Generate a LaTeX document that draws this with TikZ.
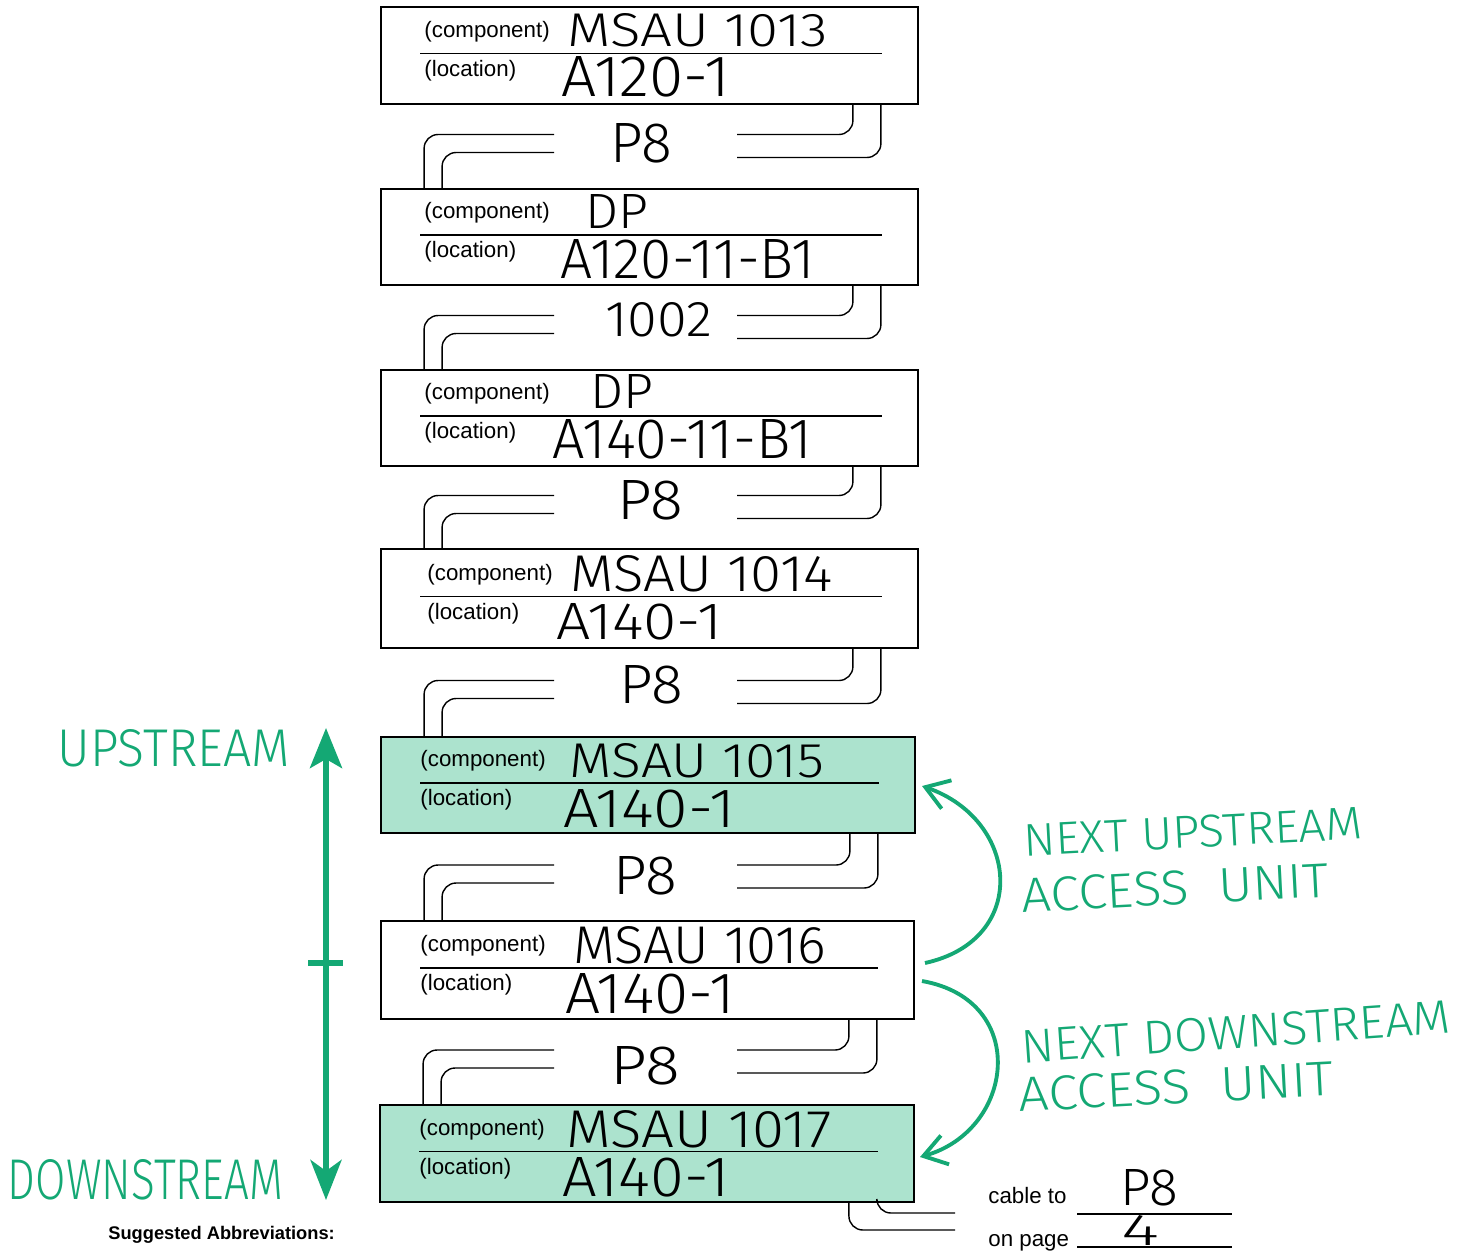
\documentclass[tikz,border=0pt]{standalone}
\usepackage{graphicx}
\usepackage{fontspec}
\setmainfont{Liberation Sans}
\newfontfamily\hand{Fira Sans Light}
\usetikzlibrary{calc,arrows.meta}
\definecolor{hgreen}{HTML}{14A874}
\definecolor{mint}{HTML}{ACE3CE}
\newlength\pxu \setlength\pxu{0.02cm}
\newcommand\hw[3]{\resizebox{#1\pxu}{#2\pxu}{\hand #3}}
\begin{document}
\begin{tikzpicture}[x=0.02cm,y=-0.02cm,
  ubox/.style={draw=black,line width=1.1pt,inner sep=0pt},
  gbox/.style={ubox,fill=mint},
  cable/.style={draw=black,line width=0.8pt,rounded corners=0.28cm},
  divider/.style={draw=black,line width=0.6pt},
  fieldlbl/.style={anchor=west,inner sep=0pt,font=\fontsize{12.7}{15}\selectfont},
  hwtext/.style={inner sep=0pt,anchor=center},
  gtext/.style={hwtext,text=hgreen},
  plain/.style={inner sep=0pt,font=\fontsize{12.7}{15}\selectfont},
  garrow/.style={draw=hgreen,line width=3.4pt},
  carrow/.style={draw=hgreen,line width=2.2pt,-{Straight Barb[length=0.45cm,width=0.6cm,line width=2.2pt]}}
]
\useasboundingbox (0,0) rectangle (1474,1252);

% boxes
\node[ubox,minimum width=10.74cm,minimum height=1.94cm] (b1) at (649.5,55.5) {};
\node[ubox,minimum width=10.74cm,minimum height=1.92cm] (b2) at (649.5,237) {};
\node[ubox,minimum width=10.74cm,minimum height=1.92cm] (b3) at (649.5,418) {};
\node[ubox,minimum width=10.74cm,minimum height=1.98cm] (b4) at (649.5,598.5) {};
\node[gbox,minimum width=10.68cm,minimum height=1.92cm] (b5) at (648,785) {};
\node[ubox,minimum width=10.66cm,minimum height=1.96cm] (b6) at (647.5,970) {};
\node[gbox,minimum width=10.68cm,minimum height=1.94cm] (b7) at (647,1153.5) {};

\foreach \b/\o in {b1/44,b2/44,b3/44,b4/47,b5/40,b6/40,b7/40}{
  \draw[divider] ($(\b.west)+(40,-2)$) -- ($(\b.east)+(-37,-2)$);
  \node[fieldlbl] (\b c) at ($(\b.west)+(\o,-24)$) {(component)};
  \node[fieldlbl] (\b l) at ($(\b.west)+(\o,15)$) {(location)};
}

% handwritten entries
\node[hwtext] (h1c) at (698,30.5) {\hw{260}{33}{MSAU 1013}};
\node[hwtext] (h1l) at (646,77) {\hw{168}{40}{A120-1}};
\node[hwtext] (h2c) at (616.5,211) {\hw{63}{34}{DP}};
\node[hwtext] (h2l) at (688,259.5) {\hw{254}{39}{A120-11-B1}};
\node[hwtext] (h3c) at (621.5,391) {\hw{63}{34}{DP}};
\node[hwtext] (h3l) at (682.5,439.5) {\hw{259}{39}{A140-11-B1}};
\node[hwtext] (h4c) at (702,574) {\hw{262}{36}{MSAU 1014}};
\node[hwtext] (h4l) at (639,622) {\hw{166}{36}{A140-1}};
\node[hwtext] (h5c) at (697,761) {\hw{254}{34}{MSAU 1015}};
\node[hwtext] (h5l) at (649,809) {\hw{172}{38}{A140-1}};
\node[hwtext] (h6c) at (699.5,945.5) {\hw{253}{37}{MSAU 1016}};
\node[hwtext] (h6l) at (650,993.5) {\hw{170}{40}{A140-1}};
\node[hwtext] (h7c) at (699.5,1129.5) {\hw{265}{37}{MSAU 1017}};
\node[hwtext] (h7l) at (646,1177.5) {\hw{168}{39}{A140-1}};

% cable labels
\node[hwtext] (p1) at (641,143.5) {\hw{62}{39}{P8}};
\node[hwtext] (p2) at (658.5,320) {\hw{107}{34}{1002}};
\node[hwtext] (p3) at (650,500.5) {\hw{66}{39}{P8}};
\node[hwtext] (p4) at (651,685) {\hw{64}{38}{P8}};
\node[hwtext] (p5) at (645,876) {\hw{64}{38}{P8}};
\node[hwtext] (p6) at (645,1066) {\hw{70}{38}{P8}};

% cable end coordinates
\foreach \g/\y in {g1/146.5,g2/327.5,g3/507.5,g4/692.5,g5/877,g6/1062}{
  \coordinate (\g w) at (554,\y);
  \coordinate (\g e) at (737,\y);
}
\foreach \u/\l/\g in {b1/b2/g1,b2/b3/g2,b3/b4/g3,b4/b5/g4,b5/b6/g5,b6/b7/g6}{
  \draw[cable] ($(\u.south east)+(-66,0)$) |- ($(\g e)+(0,-12)$);
  \draw[cable] ($(\u.south east)+(-38,0)$) |- ($(\g e)+(0,11)$);
  \draw[cable] ($(\g w)+(0,-12)$) -| ($(\l.north west)+(44,0)$);
  \draw[cable] ($(\g w)+(0,6)$) -| ($(\l.north west)+(62,0)$);
}
\coordinate (e1) at (955,1213);
\coordinate (e2) at (955,1230);
\draw[cable] ($(b7.south east)+(-38,0)$) |- (e1);
\draw[cable] ($(b7.south east)+(-66,0)$) |- (e2);

% cable to / on page
\node[plain,anchor=base west] (cto) at (988,1203) {cable to};
\node[plain,anchor=base west] (onp) at (988,1246) {on page};
\coordinate (u1a) at (1077,1214); \coordinate (u1b) at (1232,1214);
\coordinate (u2a) at (1077,1247); \coordinate (u2b) at (1232,1247);
\draw[divider,line width=0.8pt] (u1a) -- (u1b);
\draw[divider,line width=0.8pt] (u2a) -- (u2b);
\node[hwtext] (cp8) at (1149,1188) {\hw{58}{36}{P8}};
\node[hwtext] (cpg) at (1140,1230) {\hw{38}{30}{4}};

\node[inner sep=0pt,anchor=base west,font=\fontsize{10.4}{12}\selectfont\bfseries] (abbr) at (108,1239) {Suggested Abbreviations:};

% up/down stream arrow
\coordinate (ua) at (326,728);
\coordinate (da) at (326,1200);
\coordinate (tk1) at (308,963);
\coordinate (tk2) at (343,963);
\draw[garrow,{Stealth[length=0.8cm,width=0.64cm,inset=0.18cm]}-{Stealth[length=0.8cm,width=0.62cm,inset=0.22cm]}] (ua) -- (da);
\draw[garrow] (tk1) -- (tk2);
\node[gtext] (up) at (174,748.5) {\hw{232}{37}{UPSTREAM}};
\node[gtext] (down) at (145.5,1180) {\hw{275}{40}{DOWNSTREAM}};

% next unit arrows
\coordinate (cu1) at (925,963);
\coordinate (cu2) at (922,786);
\coordinate (cd1) at (922,981);
\coordinate (cd2) at (920,1157);
\draw[carrow] (cu1) .. controls (1030,940) and (1020,820) .. (cu2);
\draw[carrow] (cd1) .. controls (1030,1000) and (1015,1130) .. (cd2);
\node[gtext,rotate=3] (nu1) at (1193,832) {\hw{340}{32}{NEXT UPSTREAM}};
\node[gtext,rotate=3] (nu2) at (1175,888) {\hw{308}{34}{ACCESS\ \ UNIT}};
\node[gtext,rotate=4] (nd1) at (1236,1032) {\hw{430}{33}{NEXT DOWNSTREAM}};
\node[gtext,rotate=3] (nd2) at (1176,1087) {\hw{315}{34}{ACCESS\ \ UNIT}};
\end{tikzpicture}
\end{document}
